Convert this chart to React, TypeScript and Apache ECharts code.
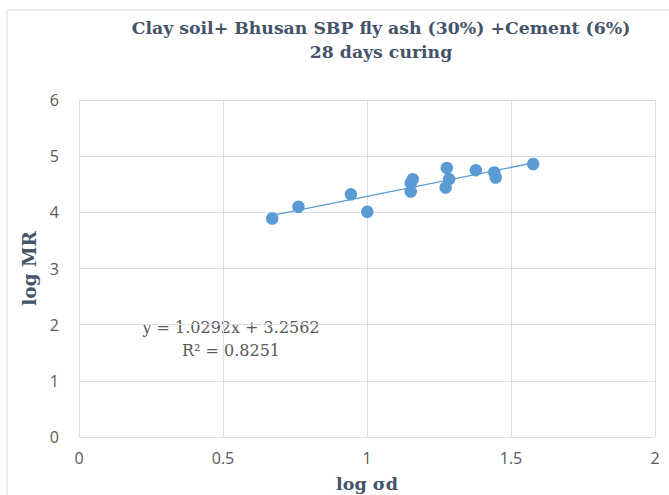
import React, { useEffect, useRef } from "react";
import * as echarts from "echarts";

const logSd: number[] = [0.671, 0.762, 0.944, 1.001, 1.152, 1.152, 1.159, 1.277, 1.273, 1.285, 1.378, 1.442, 1.447, 1.577];
const logMR: number[] = [3.89, 4.10, 4.32, 4.01, 4.37, 4.52, 4.59, 4.79, 4.44, 4.59, 4.75, 4.71, 4.62, 4.86];
const slope = 1.0292;
const intercept = 3.2562;
const r2 = 0.8251;
const titleLines: string[] = ["Clay soil+ Bhusan SBP fly ash (30%) +Cement (6%)", "28 days curing"];
const xName = "log σd";
const yName = "log MR";

export default function App() {
  const ref = useRef<HTMLDivElement>(null);
  useEffect(() => {
    if (!ref.current) return;
    const chart = echarts.init(ref.current, undefined, { renderer: "svg" });
    const xMin = Math.min(...logSd);
    const xMax = Math.max(...logSd);
    const trend = [
      [xMin, slope * xMin + intercept],
      [xMax, slope * xMax + intercept],
    ];
    const serif = "'DejaVu Serif', 'Liberation Serif', serif";
    const sans = "'Open Sans', 'Noto Sans', sans-serif";
    chart.setOption({
      animation: false,
      backgroundColor: "#ffffff",
      title: {
        text: titleLines.join("\n"),
        left: 381,
        top: 16,
        padding: 0,
        textAlign: "center",
        textStyle: {
          fontFamily: serif,
          fontWeight: "bold",
          fontSize: 17.3,
          lineHeight: 24,
          color: "#44546a",
        },
      },
      grid: { left: 79, right: 14, top: 100, bottom: 58, containLabel: false, outerBoundsMode: "none" },
      xAxis: {
        type: "value",
        min: 0,
        max: 2,
        interval: 0.5,
        name: xName,
        nameLocation: "middle",
        nameGap: 38,
        nameTextStyle: { fontFamily: serif, fontWeight: "bold", fontSize: 17.5, color: "#44546a" },
        axisLine: { show: false },
        axisTick: { show: false },
        axisLabel: { fontFamily: sans, fontSize: 16, color: "#595959", margin: 13 },
        splitLine: { show: true, lineStyle: { color: "#dcdcea", width: 1 } },
      },
      yAxis: {
        type: "value",
        min: 0,
        max: 6,
        interval: 1,
        name: yName,
        nameLocation: "middle",
        nameGap: 30,
        nameTextStyle: { fontFamily: serif, fontWeight: "bold", fontSize: 18.5, color: "#44546a" },
        axisLine: { show: false },
        axisTick: { show: false },
        axisLabel: { fontFamily: sans, fontSize: 16, color: "#595959", margin: 20 },
        splitLine: { show: true, lineStyle: { color: "#dcdcea", width: 1 } },
      },
      series: [
        {
          type: "line",
          data: trend,
          showSymbol: false,
          symbol: "none",
          lineStyle: { color: "#5b9bd5", width: 1.3 },
          z: 2,
        },
        {
          type: "scatter",
          data: logSd.map((x, i) => [x, logMR[i]]),
          symbol: "circle",
          symbolSize: 12.5,
          itemStyle: { color: "#5b9bd5", opacity: 1 },
          z: 3,
        },
      ],
      graphic: [
        {
          type: "rect",
          shape: { x: 7, y: 10, width: 680, height: 500 },
          style: { fill: "none", stroke: "#d9d9d9", lineWidth: 1 },
          silent: true,
        },
        {
          type: "text",
          x: 231,
          y: 327,
          style: {
            text: `y = ${slope.toFixed(4)}x + ${intercept.toFixed(4)}`,
            fontFamily: serif,
            fontSize: 16,
            fill: "#595959",
            textAlign: "center",
            textVerticalAlign: "middle",
          },
        },
        {
          type: "text",
          x: 231,
          y: 350,
          style: {
            text: `R² = ${r2.toFixed(4)}`,
            fontFamily: serif,
            fontSize: 16,
            fill: "#595959",
            textAlign: "center",
            textVerticalAlign: "middle",
          },
        },
      ],
    });
    return () => chart.dispose();
  }, []);
  return (
    <div
      ref={ref}
      style={{ position: "absolute", left: 0, top: 0, width: 669, height: 495 }}
    />
  );
}
